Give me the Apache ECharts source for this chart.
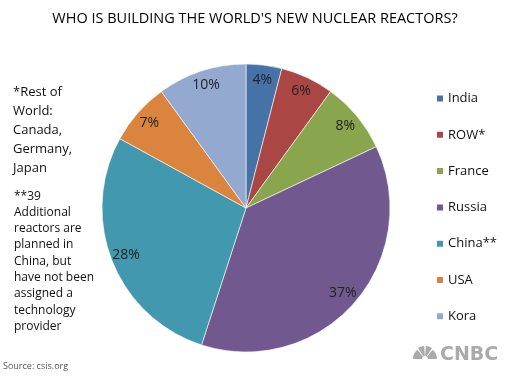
<!DOCTYPE html>
<html>
<head>
<meta charset="utf-8">
<script src="https://cdn.jsdelivr.net/npm/echarts@6/dist/echarts.min.js"></script>
<style>
  html, body { margin: 0; padding: 0; background: #fff; }
  #main { width: 510px; height: 376px; }
</style>
</head>
<body>
<div id="main"></div>
<script>
// 数据
var names = ['India', 'ROW*', 'France', 'Russia', 'China**', 'USA', 'Kora'];
var shares = [4, 6, 8, 37, 28, 7, 10];
var colors = ['#4572A7', '#AA4643', '#89A54E', '#71588F', '#4198AF', '#DB843D', '#93A9CF'];

var pieData = [];
for (var i = 0; i < names.length; i++) {
    pieData.push({ name: names[i], value: shares[i], itemStyle: { color: colors[i] } });
}

var myChart = echarts.init(document.getElementById('main'));
var font = 'Open Sans';

var option = {
    animation: false,
    title: {
        text: "WHO IS BUILDING THE WORLD'S NEW NUCLEAR REACTORS?",
        left: 'center',
        top: 6,
        textStyle: { fontFamily: font, fontSize: 14.5, fontWeight: 'normal', color: '#000' }
    },
    legend: {
        orient: 'vertical',
        left: 430,
        top: 87,
        itemWidth: 8,
        itemHeight: 8,
        itemGap: 23.3,
        icon: 'rect',
        data: names,
        textStyle: { fontFamily: font, fontSize: 13, color: '#111', padding: [0, 0, 0, -1] }
    },
    graphic: [
        {
            type: 'text', left: 13, top: 83,
            style: { text: '*Rest of\nWorld:\nCanada,\nGermany,\nJapan', font: '13px "Open Sans"', fill: '#111', lineHeight: 19 }
        },
        {
            type: 'text', left: 14, top: 188,
            style: { text: '**39\nAdditional\nreactors are\nplanned in\nChina, but\nhave not been\nassigned a\ntechnology\nprovider', font: '12px "Open Sans"', fill: '#111', lineHeight: 16.3 }
        },
        {
            type: 'text', left: 3, top: 362,
            style: { text: 'Source: csis.org', font: '9px "Open Sans"', fill: '#555' }
        },
        {
            type: 'text', left: 440, top: 346,
            style: { text: 'CNBC', font: 'bold 19px "DejaVu Sans"', fill: '#aaa' }
        },
        {
            type: 'group', left: 413, top: 346,
            children: [
                { type: 'sector', shape: { cx: 12, cy: 18, r0: 3, r: 12, startAngle: Math.PI, endAngle: Math.PI * 1.28 }, style: { fill: '#aaa' } },
                { type: 'sector', shape: { cx: 12, cy: 18, r0: 3, r: 13, startAngle: Math.PI * 1.32, endAngle: Math.PI * 1.48 }, style: { fill: '#aaa' } },
                { type: 'sector', shape: { cx: 12, cy: 18, r0: 3, r: 13, startAngle: Math.PI * 1.52, endAngle: Math.PI * 1.68 }, style: { fill: '#aaa' } },
                { type: 'sector', shape: { cx: 12, cy: 18, r0: 3, r: 12, startAngle: Math.PI * 1.72, endAngle: Math.PI * 2 }, style: { fill: '#aaa' } }
            ]
        }
    ],
    series: [
        {
            name: 'share',
            type: 'pie',
            center: [246, 208],
            radius: 144,
            startAngle: 90,
            clockwise: true,
            label: { show: false },
            labelLine: { show: false },
            itemStyle: { borderColor: '#fff', borderWidth: 0.6 },
            emphasis: { disabled: true },
            data: pieData
        },
        {
            // 透明的环, 只用来把百分比放到靠外的位置
            name: 'labels',
            type: 'pie',
            center: [246, 208],
            radius: [108, 144],
            startAngle: 90,
            clockwise: true,
            silent: true,
            itemStyle: { color: 'rgba(0,0,0,0)' },
            label: {
                show: true,
                position: 'inside',
                formatter: '{c}%',
                fontFamily: font,
                fontSize: 14,
                color: '#222'
            },
            labelLine: { show: false },
            emphasis: { disabled: true },
            data: pieData.map(function (d) { return { name: d.name + ' ', value: d.value }; })
        }
    ]
};

myChart.setOption(option);
</script>
</body>
</html>
